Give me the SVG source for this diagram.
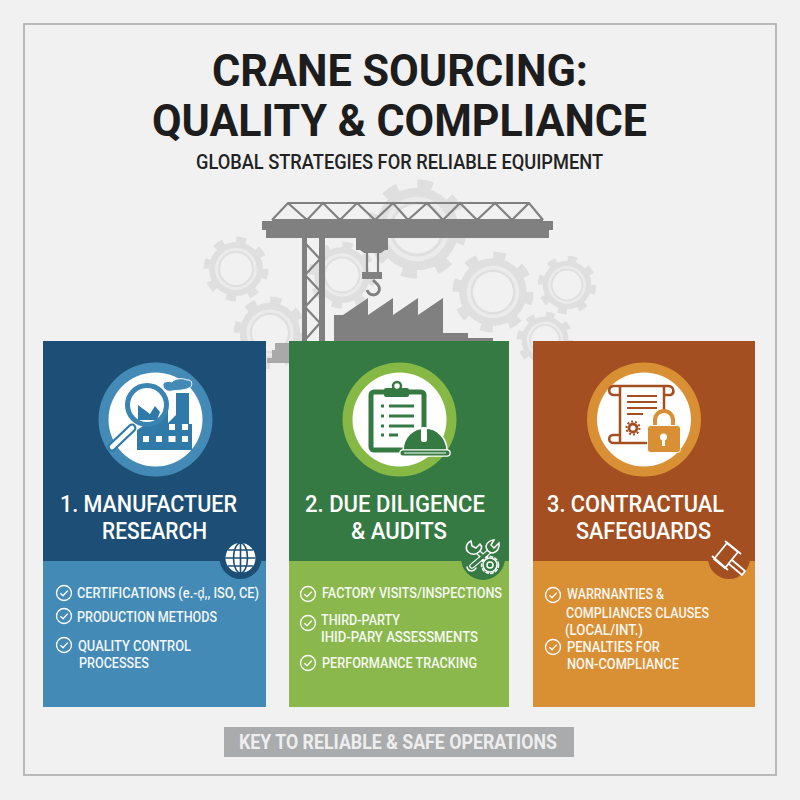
<svg xmlns="http://www.w3.org/2000/svg" xmlns:xlink="http://www.w3.org/1999/xlink" width="800" height="800" viewBox="0 0 800 800">
<style>
text{font-family:Roboto,"Liberation Sans",sans-serif}
.t{font-weight:700;fill:#1d1d1d;font-size:45px}
.s{font-weight:500;fill:#222;font-size:19.5px}
.h{font-weight:500;fill:#fff;font-size:24.5px}
.l{font-weight:500;fill:#fff;font-size:15px;opacity:.93}
.ck{fill:none;stroke:#fff;stroke-width:1.3}
.cr{fill:#808080}
.crl{fill:none;stroke:#808080;stroke-width:2.2}
</style>
<defs>
<g id="gear"><circle r="21.500" fill="none" stroke="#dfdfdf" stroke-width="11"/><circle r="29.500" fill="none" stroke="#dfdfdf" stroke-width="6" stroke-dasharray="10 13.170"/><circle r="19.500" fill="none" stroke="#ebebeb" stroke-width="3"/></g>
<g id="check"><circle r="7.500" class="ck"/><path d="M-3.600 0.200L-1 2.800L3.800-2.400" class="ck"/></g>
</defs>
<rect width="800" height="800" fill="#f1f1f1"/>
<rect x="24" y="24" width="752" height="751" fill="none" stroke="#b9b9b9" stroke-width="2"/>
<g id="title">
<text class="t" x="212" y="86" textLength="376" lengthAdjust="spacingAndGlyphs">CRANE SOURCING:</text>
<text class="t" x="152" y="136" textLength="495" lengthAdjust="spacingAndGlyphs">QUALITY &amp; COMPLIANCE</text>
<text class="s" x="196" y="169" textLength="407" lengthAdjust="spacingAndGlyphs">GLOBAL STRATEGIES FOR RELIABLE EQUIPMENT</text>
</g>
<g id="gears">
<use xlink:href="#gear" transform="translate(236 269)"/>
<use xlink:href="#gear" transform="translate(417 229) scale(1.530)"/>
<use xlink:href="#gear" transform="translate(342 275) scale(1.030)"/>
<use xlink:href="#gear" transform="translate(493 292) scale(1.250)"/>
<use xlink:href="#gear" transform="translate(567 285) scale(.900)"/>
<use xlink:href="#gear" transform="translate(270 333) scale(1.120)"/>
<use xlink:href="#gear" transform="translate(545 340) scale(.870)"/>
</g>
<g id="crane">
<rect class="cr" x="262" y="221" width="291" height="9"/>
<rect class="cr" x="266" y="229" width="283" height="9"/>
<path class="crl" d="M272 220L288 203H529L543 220M272 220H543M288 203L307 220L323 203L340 220L357 203L375 220L393 203L408 220L427 203L443 220L460 203L477 220L495 203L512 220L529 203"/>
<rect class="cr" x="302" y="238" width="5" height="103"/>
<rect class="cr" x="319" y="238" width="6" height="103"/>
<path class="crl" d="M305 243L320 259L305 275L320 291L305 307L320 323L305 340"/>
<rect class="cr" x="356" y="238" width="32" height="12"/>
<path class="cr" d="M360 250H385L381 253H364Z"/>
<path class="crl" d="M367 252V272M378 252V272" stroke-width="1.800"/>
<rect class="cr" x="362" y="272" width="20" height="7"/>
<path d="M373 280L378 285C381 289 379 294 374 295C370 295 368 293 367 290" fill="none" stroke="#808080" stroke-width="2.800"/>
<path class="cr" d="M334 342V315H343L368 298V315L393 298V315L418 298V315L443 298V333H468V342Z"/>
<rect class="cr" x="468" y="338" width="25" height="3"/>
<path d="M275 343H289V363H267V358H272V350H275Z" fill="#a9a9a9"/>
</g>
<g id="card1">
<rect x="43" y="341" width="223" height="220" fill="#1d4f76"/>
<rect x="43" y="561" width="223" height="146" fill="#438ab6"/>
<circle cx="155.500" cy="419.500" r="57" fill="#438ab6"/><circle cx="155.500" cy="419.500" r="47" fill="#fff"/>
<path d="M137 450V430L168 410V423L176 415V393H189V424H192V450Z" fill="#2f7aa8"/>
<g fill="#fff"><rect x="143" y="436" width="6" height="6"/><rect x="156" y="436" width="6" height="6"/><rect x="168.500" y="436" width="7" height="6"/><rect x="182" y="436" width="6" height="6"/><rect x="169" y="424" width="6" height="6"/><rect x="182" y="424" width="6" height="6"/></g>
<path d="M132 428L112 447" stroke="#2f7aa8" stroke-width="9" stroke-linecap="round"/><path d="M132 428L112 447" stroke="#fff" stroke-width="4.500" stroke-linecap="round"/>
<circle cx="147" cy="405" r="19.500" fill="#fff" stroke="#3a84b2" stroke-width="5"/>
<path d="M138 405L150 414L155 406L160 412L157 420H138Z" fill="#2f7aa8"/>
<path d="M163 386C162 381 169 381 172 382C175 378 183 378 187 380C193 379 193 387 189 388C183 391 176 390 172 391C168 392 164 390 163 386Z" fill="#438ab6" stroke="#fff"/>
<text class="h" x="60" y="512" textLength="177" lengthAdjust="spacingAndGlyphs">1. MANUFACTUER</text>
<text class="h" x="102" y="539" textLength="105" lengthAdjust="spacingAndGlyphs">RESEARCH</text>
<circle cx="240.500" cy="558" r="21" fill="#1d4f76"/>
<circle cx="240.500" cy="558" r="15" fill="#fff"/>
<g fill="none" stroke="#1d4f76" stroke-width="1.600"><ellipse cx="240.500" cy="558" rx="7" ry="15"/><path d="M225.500 558H255.500M228 550H253M228 566H253M240.500 543V573"/></g>
<use xlink:href="#check" x="64" y="593"/><use xlink:href="#check" x="64" y="616"/><use xlink:href="#check" x="64" y="645"/>
<text class="l" x="77" y="598" textLength="182" lengthAdjust="spacingAndGlyphs">CERTIFICATIONS (e.-ḑ,, ISO, CE)</text>
<text class="l" x="77" y="622" textLength="140" lengthAdjust="spacingAndGlyphs">PRODUCTION METHODS</text>
<text class="l" x="78" y="651" textLength="113" lengthAdjust="spacingAndGlyphs">QUALITY CONTROL</text>
<text class="l" x="79" y="668" textLength="70" lengthAdjust="spacingAndGlyphs">PROCESSES</text>
</g>
<g id="card2">
<rect x="289" y="341" width="220" height="220" fill="#367a43"/>
<rect x="289" y="561" width="220" height="146" fill="#8ab84d"/>
<circle cx="399.500" cy="419.500" r="57" fill="#86b846"/><circle cx="399.500" cy="419.500" r="47" fill="#fff"/>
<rect x="371" y="392" width="53" height="58" rx="3" fill="#fff" stroke="#367a43" stroke-width="5"/>
<rect x="384" y="388" width="25" height="9" rx="2" fill="#367a43"/><circle cx="397" cy="386" r="4" fill="#fff" stroke="#367a43" stroke-width="2.500"/>
<path d="M381 406H384M389 406H414M381 416H384M389 416H414M381 426H384M389 426H414M381 435H384M389 435H398" stroke="#367a43" stroke-width="2.800" fill="none"/>
<path d="M403 451C403 437 413 428 425 428C437 428 447 438 447 451Z" fill="#367a43" stroke="#fff" stroke-width="1.500"/>
<rect x="421" y="427" width="6" height="15" rx="2" fill="#fff"/>
<path d="M403 453H447" stroke="#fff" stroke-width="7.500" stroke-linecap="round"/>
<path d="M403 453H447" stroke="#367a43" stroke-width="5" stroke-linecap="round"/>
<path d="M404 453H446" stroke="#fff" stroke-width="1.200"/>
<text class="h" x="305" y="512" textLength="180" lengthAdjust="spacingAndGlyphs">2. DUE DILIGENCE</text>
<text class="h" x="351" y="539" textLength="96" lengthAdjust="spacingAndGlyphs">&amp; AUDITS</text>
<circle cx="483" cy="558" r="22" fill="#367a43"/>
<g fill="none" stroke-linecap="round">
<path d="M479 553L490 563M472 566L491 550" stroke="#fff" stroke-width="5.500"/>
<path d="M479 553L490 563M472 566L491 550" stroke="#367a43" stroke-width="3"/>
<g stroke="#fff" stroke-width="1.500">
<path d="M471 541C466 543 465 549 468 552C471 555 476 555 479 552C482 549 482 546 480 544L476 548L472 546Z" fill="#367a43"/>
<path d="M499 543C500 548 497 552 493 553C489 553 486 550 486 546C487 542 491 540 494 540L491 545L494 548Z" fill="#367a43"/>
<path d="M467 567C468 572 474 572 476 568"/>
<circle cx="490" cy="565" r="7" fill="#367a43"/><circle cx="490" cy="565" r="3"/><circle cx="490" cy="565" r="8.500" stroke-dasharray="2.500 2.500"/>
</g></g>
<use xlink:href="#check" x="308" y="594"/><use xlink:href="#check" x="308" y="623"/><use xlink:href="#check" x="308" y="663"/>
<text class="l" x="322" y="598" textLength="180" lengthAdjust="spacingAndGlyphs">FACTORY VISITS/INSPECTIONS</text>
<text class="l" x="321" y="625" textLength="79" lengthAdjust="spacingAndGlyphs">THIRD-PARTY</text>
<text class="l" x="321" y="642" textLength="157" lengthAdjust="spacingAndGlyphs">IHID-PARY ASSESSMENTS</text>
<text class="l" x="322" y="668" textLength="155" lengthAdjust="spacingAndGlyphs">PERFORMANCE TRACKING</text>
</g>
<g id="card3">
<rect x="533" y="341" width="222" height="220" fill="#a44f21"/>
<rect x="533" y="561" width="222" height="146" fill="#d98f33"/>
<circle cx="644" cy="419.500" r="57" fill="#d98f33"/><circle cx="644" cy="419.500" r="47" fill="#fff"/>
<path d="M613 386H668C674 386 675 393 671 395H664M664 387V412M620 387V443M613 386C608 387 608 394 613 395H620M647 443H613C608 443 608 435 613 435H620" fill="none" stroke="#a44f21" stroke-width="2.500"/>
<path d="M627 396H657M627 402H657M627 408H657M627 414H643" stroke="#a44f21" stroke-width="2.200"/>
<circle cx="633" cy="428" r="4" fill="#fff" stroke="#a44f21" stroke-width="2.800"/><circle cx="633" cy="428" r="6.500" fill="none" stroke="#a44f21" stroke-width="2" stroke-dasharray="2 2"/>
<path d="M655 427V420A9 9 0 0 1 673 420V427" fill="#fff" stroke="#d98f33" stroke-width="4"/>
<rect x="647.500" y="425.500" width="33" height="27" rx="3" fill="#d98f33" stroke="#fff"/>
<circle cx="663.500" cy="437" r="3.500" fill="#fff"/><rect x="662" y="437" width="3" height="9" fill="#fff"/>
<text class="h" x="547" y="512" textLength="177" lengthAdjust="spacingAndGlyphs">3. CONTRACTUAL</text>
<text class="h" x="576" y="539" textLength="135" lengthAdjust="spacingAndGlyphs">SAFEGUARDS</text>
<circle cx="729" cy="558" r="21" fill="#a44f21"/>
<g fill="none" stroke="#fff" stroke-width="1.800" stroke-linejoin="round"><path d="M727 543L738 552L725 568L714 559Z"/><path d="M725 541L741 554M712 556L728 570"/><path d="M732 560L745 571L742 575L729 564"/></g>
<use xlink:href="#check" x="553" y="595"/><use xlink:href="#check" x="553" y="647"/>
<text class="l" x="567" y="599" textLength="97" lengthAdjust="spacingAndGlyphs">WARRNANTIES &amp;</text>
<text class="l" x="566" y="618" textLength="143" lengthAdjust="spacingAndGlyphs">COMPLIANCES CLAUSES</text>
<text class="l" x="565" y="635" textLength="78" lengthAdjust="spacingAndGlyphs">(LOCAL/INT.)</text>
<text class="l" x="567" y="652" textLength="93" lengthAdjust="spacingAndGlyphs">PENALTIES FOR</text>
<text class="l" x="567" y="669" textLength="112" lengthAdjust="spacingAndGlyphs">NON-COMPLIANCE</text>
</g>
<g id="footer">
<rect x="224" y="727" width="350" height="30" fill="#a9abad"/>
<text x="239" y="749" textLength="318" lengthAdjust="spacingAndGlyphs" font-size="20.500" font-weight="700" fill="#eeeeee">KEY TO RELIABLE &amp; SAFE OPERATIONS</text>
</g>
</svg>
